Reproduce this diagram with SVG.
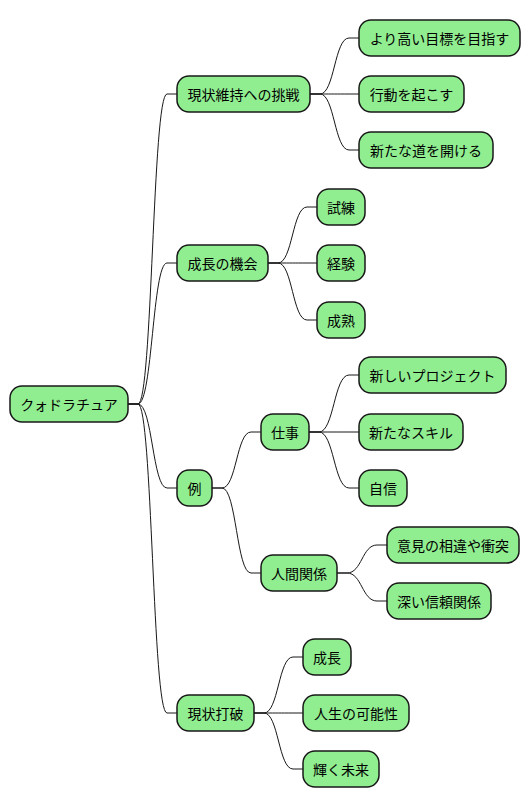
<svg xmlns="http://www.w3.org/2000/svg" width="530" height="809" viewBox="0 0 530 809">
<style>
.n rect{fill:#90EE90;stroke:#181818;stroke-width:1.5}
.n text{font-family:"Noto Sans CJK JP","Noto Sans",sans-serif;font-size:14px;fill:#000;text-anchor:middle;dominant-baseline:central}
#connectors path{fill:none;stroke:#181818;stroke-width:1}
</style>
<rect width="530" height="809" fill="#fff"/>
<g id="connectors">
<path d="M128,404 H138 C152.5,404 152.5,94 167,94 H177"/>
<path d="M128,404 H138 C152.5,404 152.5,263 167,263 H177"/>
<path d="M128,404 H138 C152.5,404 152.5,488 167,488 H177"/>
<path d="M128,404 H138 C152.5,404 152.5,713 167,713 H177"/>
<path d="M310,94 H320 C334.5,94 334.5,38 349,38 H359"/>
<path d="M310,94 H320 C334.5,94 334.5,94 349,94 H359"/>
<path d="M310,94 H320 C334.5,94 334.5,150 349,150 H359"/>
<path d="M268,263 H278 C292.5,263 292.5,207 307,207 H317"/>
<path d="M268,263 H278 C292.5,263 292.5,263 307,263 H317"/>
<path d="M268,263 H278 C292.5,263 292.5,320 307,320 H317"/>
<path d="M212,488 H222 C236.5,488 236.5,432 251,432 H261"/>
<path d="M212,488 H222 C236.5,488 236.5,573 251,573 H261"/>
<path d="M309,432 H319 C334,432 334,375 349,375 H359"/>
<path d="M309,432 H319 C334,432 334,432 349,432 H359"/>
<path d="M309,432 H319 C334,432 334,488 349,488 H359"/>
<path d="M337,573 H347 C362,573 362,545 377,545 H387"/>
<path d="M337,573 H347 C362,573 362,601 377,601 H387"/>
<path d="M254,713 H264 C278.5,713 278.5,657 293,657 H303"/>
<path d="M254,713 H264 C278.5,713 278.5,713 293,713 H303"/>
<path d="M254,713 H264 C278.5,713 278.5,769 293,769 H303"/>
</g>
<g id="root" class="n"><rect x="10" y="386" width="118" height="36" rx="12"/><text x="69" y="404">クォドラチュア</text></g>
<g id="a" class="n"><rect x="177" y="76" width="133" height="36" rx="12"/><text x="243.5" y="94">現状維持への挑戦</text></g>
<g id="a1" class="n"><rect x="359" y="20" width="161" height="36" rx="12"/><text x="439.5" y="38">より高い目標を目指す</text></g>
<g id="a2" class="n"><rect x="359" y="76" width="105" height="36" rx="12"/><text x="411.5" y="94">行動を起こす</text></g>
<g id="a3" class="n"><rect x="359" y="132" width="134" height="36" rx="12"/><text x="426" y="150">新たな道を開ける</text></g>
<g id="b" class="n"><rect x="177" y="245" width="91" height="36" rx="12"/><text x="222.5" y="263">成長の機会</text></g>
<g id="b1" class="n"><rect x="317" y="189" width="48" height="36" rx="12"/><text x="341" y="207">試練</text></g>
<g id="b2" class="n"><rect x="317" y="245" width="48" height="36" rx="12"/><text x="341" y="263">経験</text></g>
<g id="b3" class="n"><rect x="317" y="302" width="48" height="36" rx="12"/><text x="341" y="320">成熟</text></g>
<g id="c" class="n"><rect x="177" y="470" width="35" height="36" rx="12"/><text x="194.5" y="488">例</text></g>
<g id="c1" class="n"><rect x="261" y="414" width="48" height="36" rx="12"/><text x="285" y="432">仕事</text></g>
<g id="c1a" class="n"><rect x="359" y="357" width="147" height="36" rx="12"/><text x="432.5" y="375">新しいプロジェクト</text></g>
<g id="c1b" class="n"><rect x="359" y="414" width="104" height="36" rx="12"/><text x="411" y="432">新たなスキル</text></g>
<g id="c1c" class="n"><rect x="359" y="470" width="48" height="36" rx="12"/><text x="383" y="488">自信</text></g>
<g id="c2" class="n"><rect x="261" y="555" width="76" height="36" rx="12"/><text x="299" y="573">人間関係</text></g>
<g id="c2a" class="n"><rect x="387" y="527" width="132" height="36" rx="12"/><text x="453" y="545">意見の相違や衝突</text></g>
<g id="c2b" class="n"><rect x="387" y="583" width="104" height="36" rx="12"/><text x="439" y="601">深い信頼関係</text></g>
<g id="d" class="n"><rect x="177" y="695" width="77" height="36" rx="12"/><text x="215.5" y="713">現状打破</text></g>
<g id="d1" class="n"><rect x="303" y="639" width="48" height="36" rx="12"/><text x="327" y="657">成長</text></g>
<g id="d2" class="n"><rect x="303" y="695" width="106" height="36" rx="12"/><text x="356" y="713">人生の可能性</text></g>
<g id="d3" class="n"><rect x="303" y="751" width="76" height="36" rx="12"/><text x="341" y="769">輝く未来</text></g>
</svg>
